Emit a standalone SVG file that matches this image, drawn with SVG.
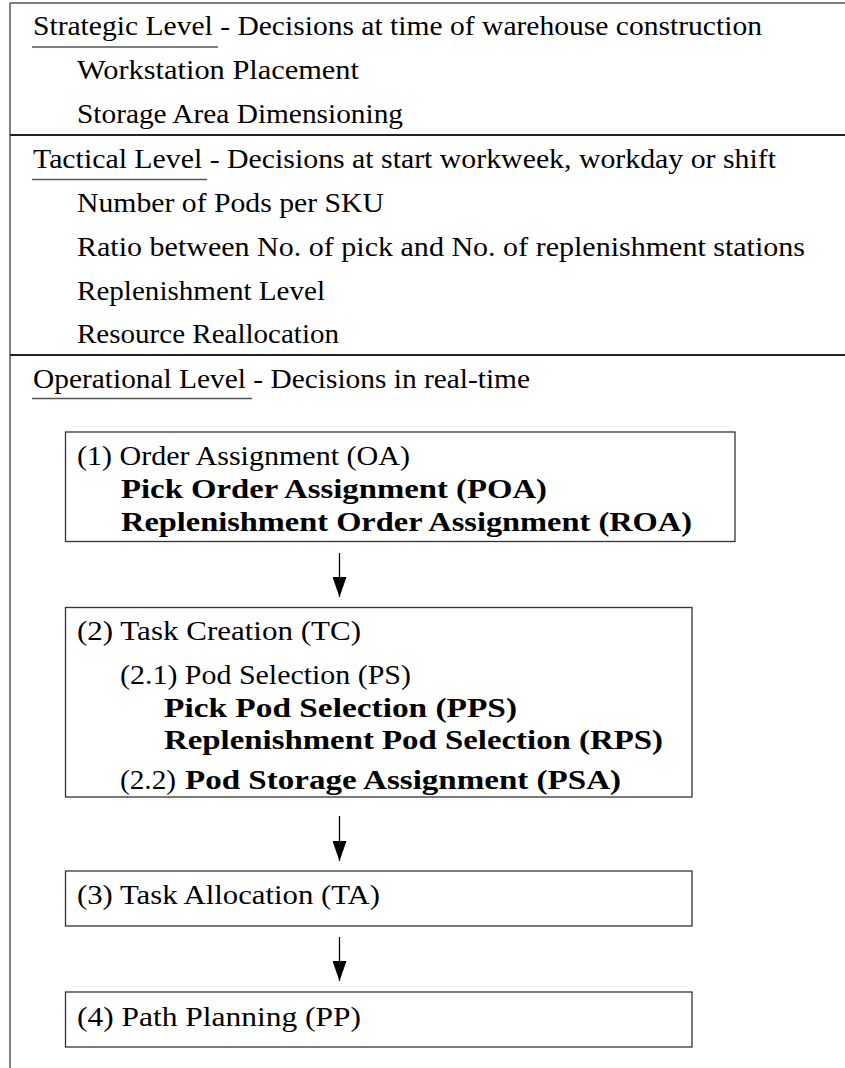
<svg xmlns="http://www.w3.org/2000/svg" width="845" height="1068" viewBox="0 0 845 1068">
<style>
text{font-family:"Times New Roman",Times,"Liberation Serif","DejaVu Serif","Noto Serif",FreeSerif,serif;font-size:27px;fill:#000}
.b{font-weight:bold}
.frame{stroke:#555;stroke-width:1.5;fill:none}
.sep{stroke:#222;stroke-width:2;fill:none}
.ul{stroke:#555;stroke-width:1.6;fill:none}
.box{stroke:#333;stroke-width:1.3;fill:#fff}
.conn{stroke:#000;stroke-width:1.3;fill:none}
</style>
<defs>
<marker id="ah" markerUnits="userSpaceOnUse" markerWidth="20" markerHeight="14" refX="20" refY="7" orient="auto">
<path d="M0,0 L20,7 L0,14 z" fill="#000"/>
</marker>
</defs>
<rect width="845" height="1068" fill="#fff"/>
<g id="frame">
<line class="frame" x1="10" y1="3" x2="845" y2="3"/>
<line class="frame" x1="10" y1="3" x2="10" y2="1068"/>
<line class="sep" x1="10" y1="135" x2="845" y2="135"/>
<line class="sep" x1="10" y1="355" x2="845" y2="355"/>
</g>
<g id="strategic">
<text x="33" y="35" textLength="729" lengthAdjust="spacingAndGlyphs">Strategic Level - Decisions at time of warehouse construction</text>
<line class="ul" x1="32" y1="47" x2="218" y2="47"/>
<text x="77" y="79" textLength="282" lengthAdjust="spacingAndGlyphs">Workstation Placement</text>
<text x="77" y="123" textLength="326" lengthAdjust="spacingAndGlyphs">Storage Area Dimensioning</text>
</g>
<g id="tactical">
<text x="33" y="168" textLength="743" lengthAdjust="spacingAndGlyphs">Tactical Level - Decisions at start workweek, workday or shift</text>
<line class="ul" x1="32" y1="179.5" x2="207" y2="179.5"/>
<text x="77" y="212" textLength="307" lengthAdjust="spacingAndGlyphs">Number of Pods per SKU</text>
<text x="77" y="256" textLength="728" lengthAdjust="spacingAndGlyphs">Ratio between No. of pick and No. of replenishment stations</text>
<text x="77" y="300" textLength="248" lengthAdjust="spacingAndGlyphs">Replenishment Level</text>
<text x="77" y="343" textLength="262" lengthAdjust="spacingAndGlyphs">Resource Reallocation</text>
</g>
<g id="operational">
<text x="33" y="388" textLength="497" lengthAdjust="spacingAndGlyphs">Operational Level - Decisions in real-time</text>
<line class="ul" x1="32" y1="398.5" x2="252" y2="398.5"/>
</g>
<g id="oa">
<rect class="box" x="65.5" y="432" width="669.5" height="109.5"/>
<text x="77" y="465" textLength="333" lengthAdjust="spacingAndGlyphs">(1) Order Assignment (OA)</text>
<text class="b" x="121" y="498" textLength="426" lengthAdjust="spacingAndGlyphs">Pick Order Assignment (POA)</text>
<text class="b" x="121" y="531" textLength="571" lengthAdjust="spacingAndGlyphs">Replenishment Order Assignment (ROA)</text>
</g>
<g id="tc">
<rect class="box" x="65.5" y="607.5" width="626.5" height="189.5"/>
<text x="77" y="640" textLength="284" lengthAdjust="spacingAndGlyphs">(2) Task Creation (TC)</text>
<text x="120" y="684" textLength="291" lengthAdjust="spacingAndGlyphs">(2.1) Pod Selection (PS)</text>
<text class="b" x="164" y="717" textLength="353" lengthAdjust="spacingAndGlyphs">Pick Pod Selection (PPS)</text>
<text class="b" x="164" y="749" textLength="499" lengthAdjust="spacingAndGlyphs">Replenishment Pod Selection (RPS)</text>
<text x="120" y="789" textLength="56" lengthAdjust="spacingAndGlyphs">(2.2)</text>
<text class="b" x="185" y="789" textLength="436" lengthAdjust="spacingAndGlyphs">Pod Storage Assignment (PSA)</text>
</g>
<g id="ta">
<rect class="box" x="65.5" y="871" width="626.5" height="55"/>
<text x="77" y="904" textLength="303" lengthAdjust="spacingAndGlyphs">(3) Task Allocation (TA)</text>
</g>
<g id="pp">
<rect class="box" x="65.5" y="992" width="626.5" height="55"/>
<text x="77" y="1026" textLength="284" lengthAdjust="spacingAndGlyphs">(4) Path Planning (PP)</text>
</g>
<g id="connectors">
<line class="conn" x1="339.5" y1="553" x2="339.5" y2="597" marker-end="url(#ah)"/>
<line class="conn" x1="339.5" y1="816" x2="339.5" y2="861" marker-end="url(#ah)"/>
<line class="conn" x1="339.5" y1="937" x2="339.5" y2="981" marker-end="url(#ah)"/>
</g>
</svg>
